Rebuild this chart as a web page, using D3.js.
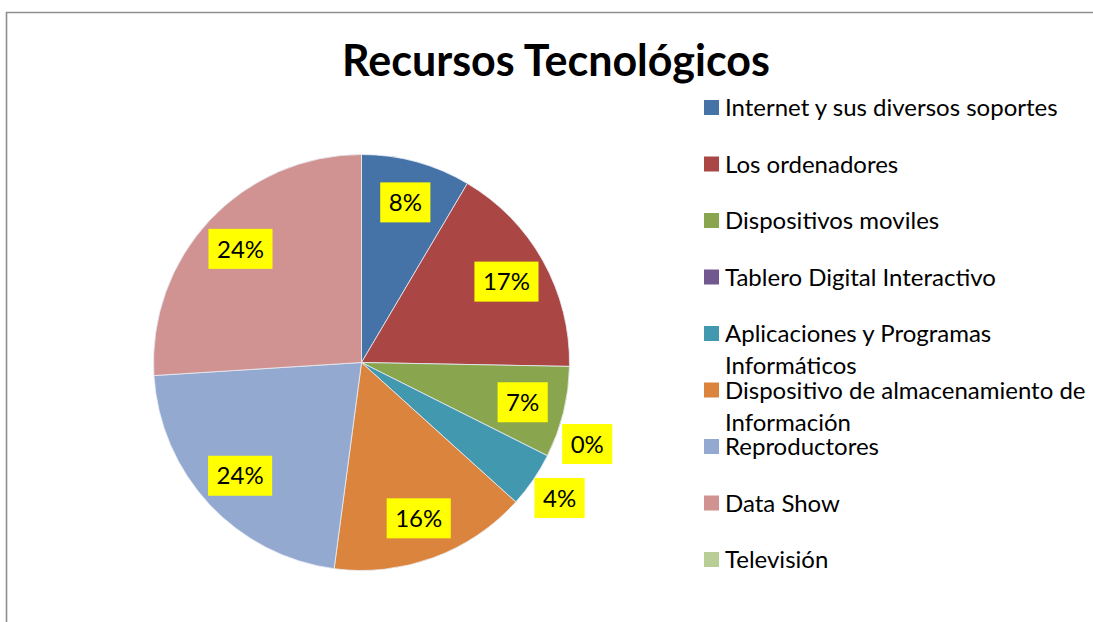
<!DOCTYPE html>
<html>
<head>
<meta charset="utf-8">
<script src="https://cdn.jsdelivr.net/npm/d3@7"></script>
<style>
  body { margin: 0; background: #fff; }
  svg { display: block; font-family: Lato, "Open Sans", sans-serif; }
</style>
</head>
<body>
<svg width="1093" height="622"></svg>
<script>
const title = 'Recursos Tecnológicos';
const categories = ['Internet y sus diversos soportes', 'Los ordenadores', 'Dispositivos moviles',
                    'Tablero Digital Interactivo', 'Aplicaciones y Programas Informáticos',
                    'Dispositivo de almacenamiento de Información', 'Reproductores', 'Data Show', 'Televisión'];
// slice sizes (percent of the circle)
const values = [8.5, 16.8, 7.1, 0, 4.3, 15.4, 21.9, 26.0, 0];
// percentages printed on the chart
const percentLabels = ['8%', '17%', '7%', '0%', '4%', '16%', '24%', '24%', null];
const colors = ['#4572a7', '#aa4643', '#89a54e', '#71588f', '#4198af', '#db843d', '#93a9cf', '#d19392', '#b9cd96'];

const cx = 361.5, cy = 362.5, radius = 208;
const innerLabelRadius = 166, outerLabelRadius = 240;
const legendX = 704, legendTop = 100, legendStep = 56.5, legendWrap = 372;

var svg = d3.select('svg');

// frame (only the left and top edges show in the crop)
svg.append('path')
   .attr('d', 'M6.5,622V12.5H1093')
   .attr('fill', 'none')
   .attr('stroke', '#8e8e8e')
   .attr('stroke-width', 1.6);

svg.append('text')
   .attr('x', 556)
   .attr('y', 76)
   .attr('text-anchor', 'middle')
   .attr('font-size', 43)
   .attr('font-weight', 'bold')
   .text(title);

function renderPie(){
  var pie = d3.pie().sort(null).value(function(d){ return d; });
  var arcs = pie(values);
  var arc = d3.arc().innerRadius(0).outerRadius(radius);
  var g = svg.append('g').attr('transform', 'translate(' + cx + ',' + cy + ')');

  g.selectAll('path.slice')
   .data(arcs.filter(function(d){ return d.value > 0; }))
   .enter().append('path')
   .attr('class', 'slice')
   .attr('d', arc)
   .attr('fill', function(d){ return colors[d.index]; })
   .attr('stroke', '#e8eef6')
   .attr('stroke-width', 0.8);

  var labels = [];
  arcs.forEach(function(d){
    if(!percentLabels[d.index]) return;
    var outside = d.value < 5;
    var r = outside ? outerLabelRadius : innerLabelRadius;
    var pos = d3.arc().innerRadius(r).outerRadius(r).centroid(d);
    labels.push({ text: percentLabels[d.index], x: pos[0], y: pos[1], outside: outside, r: r });
  });

  // push crowded outside labels upward along their circle
  var outs = labels.filter(function(l){ return l.outside; });
  for(var i = outs.length - 2; i >= 0; i--){
    var next = outs[i+1];
    if(next.y - outs[i].y < 54){
      outs[i].y = next.y - 54;
      outs[i].x = Math.sqrt(outs[i].r*outs[i].r - outs[i].y*outs[i].y);
    }
  }

  var lab = g.selectAll('g.lab')
             .data(labels)
             .enter().append('g')
             .attr('class', 'lab')
             .attr('transform', function(d){ return 'translate(' + d.x + ',' + d.y + ')'; });

  lab.append('text')
     .attr('text-anchor', 'middle')
     .attr('dy', '0.36em')
     .attr('font-size', 24)
     .text(function(d){ return d.text; });

  lab.insert('rect', 'text')
     .attr('fill', '#ffff00')
     .each(function(){
       var t = d3.select(this.parentNode).select('text').node().getComputedTextLength();
       var w = t + 17;
       d3.select(this).attr('x', -w/2).attr('y', -20).attr('width', w).attr('height', 40);
     });
}

function renderLegend(){
  var item = svg.selectAll('g.legend')
                .data(categories)
                .enter().append('g')
                .attr('class', 'legend')
                .attr('transform', function(d, i){ return 'translate(' + legendX + ',' + (legendTop + i*legendStep) + ')'; });

  item.append('rect')
      .attr('width', 15)
      .attr('height', 15)
      .attr('fill', function(d, i){ return colors[i]; });

  item.append('text')
      .attr('x', 21)
      .attr('y', 7.5)
      .attr('font-size', 24)
      .text(function(d){ return d; })
      .call(wrap, legendWrap);
}

function wrap(text, width){
  text.each(function(){
    let text = d3.select(this),
        words = text.text().split(/\s+/).reverse(),
        word,
        line = [],
        lineNumber = 0,
        lineHeight = 32,
        x = text.attr('x'),
        y = text.attr('y'),
        tspan = text.text(null).append('tspan').attr('x', x).attr('y', y).attr('dy', '0.36em');

    while (word = words.pop()) {
      line.push(word);
      tspan.text(line.join(' '));
      if (tspan.node().getComputedTextLength() > width && line.length > 1) {
        line.pop();
        tspan.text(line.join(' '));
        line = [word];
        lineNumber++;
        tspan = text.append('tspan').attr('x', x).attr('y', +y + lineNumber*lineHeight).attr('dy', '0.36em').text(word);
      }
    }
  });
}

renderPie();
renderLegend();
</script>
</body>
</html>
